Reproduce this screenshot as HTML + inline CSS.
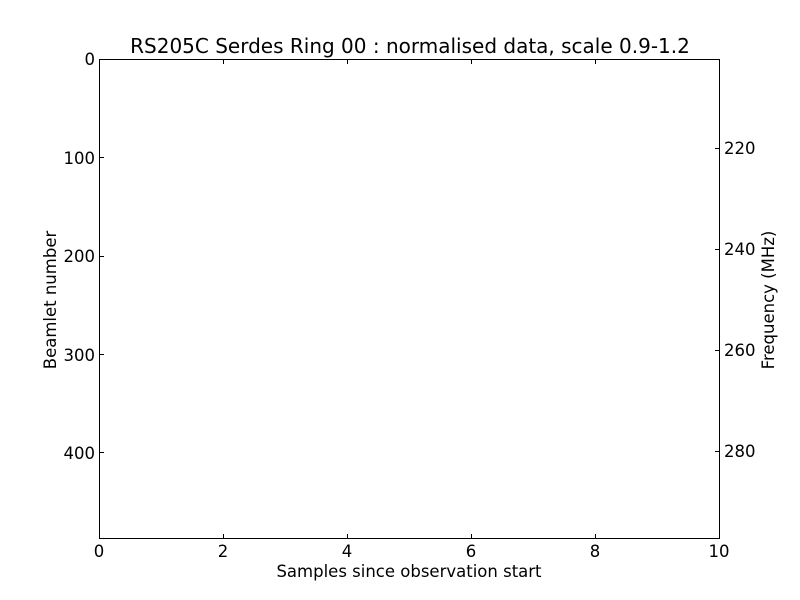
<!DOCTYPE html>
<html><head><meta charset="utf-8"><style>
html,body{margin:0;padding:0;background:#fff;}
svg{display:block;font-family:"DejaVu Sans","Liberation Sans",sans-serif;}
</style></head><body>
<svg width="800" height="600" viewBox="0 0 800 600" xmlns="http://www.w3.org/2000/svg">
<rect width="800" height="600" fill="#fff"/>
<text x="410" y="53" font-size="20" text-anchor="middle">RS205C Serdes Ring 00 : normalised data, scale 0.9-1.2</text>
<rect x="99.5" y="59.5" width="620" height="479" fill="none" stroke="#000" stroke-width="1"/>
<g stroke="#000" stroke-width="1">
<line x1="223.5" y1="538" x2="223.5" y2="534"/><line x1="347.5" y1="538" x2="347.5" y2="534"/>
<line x1="471.5" y1="538" x2="471.5" y2="534"/><line x1="595.5" y1="538" x2="595.5" y2="534"/>
<line x1="223.5" y1="60" x2="223.5" y2="64"/><line x1="347.5" y1="60" x2="347.5" y2="64"/>
<line x1="471.5" y1="60" x2="471.5" y2="64"/><line x1="595.5" y1="60" x2="595.5" y2="64"/>
<line x1="100" y1="157.5" x2="104" y2="157.5"/><line x1="100" y1="256.5" x2="104" y2="256.5"/>
<line x1="100" y1="354.5" x2="104" y2="354.5"/><line x1="100" y1="452.5" x2="104" y2="452.5"/>
<line x1="719" y1="148.5" x2="715" y2="148.5"/><line x1="719" y1="249.5" x2="715" y2="249.5"/>
<line x1="719" y1="350.5" x2="715" y2="350.5"/><line x1="719" y1="451.5" x2="715" y2="451.5"/>
</g>
<g font-size="16.5" text-anchor="end">
<text x="95" y="65">0</text><text x="122" y="164" text-anchor="end" dx="-27">100</text><text x="95" y="262">200</text>
<text x="95" y="361">300</text><text x="95" y="459">400</text>
</g>
<g font-size="16.5" text-anchor="start">
<text x="724" y="154">220</text><text x="724" y="255">240</text>
<text x="724" y="356">260</text><text x="724" y="457">280</text>
</g>
<g font-size="16.5" text-anchor="middle">
<text x="99" y="557">0</text><text x="223" y="557">2</text><text x="347" y="557">4</text>
<text x="471" y="557">6</text><text x="595" y="557">8</text><text x="719" y="557">10</text>
</g>
<text x="409" y="577" font-size="16.5" text-anchor="middle">Samples since observation start</text>
<text transform="translate(56,300) rotate(-90)" font-size="16.5" text-anchor="middle">Beamlet number</text>
<text transform="translate(774,300) rotate(-90)" font-size="16.5" text-anchor="middle">Frequency (MHz)</text>
</svg>
</body></html>
